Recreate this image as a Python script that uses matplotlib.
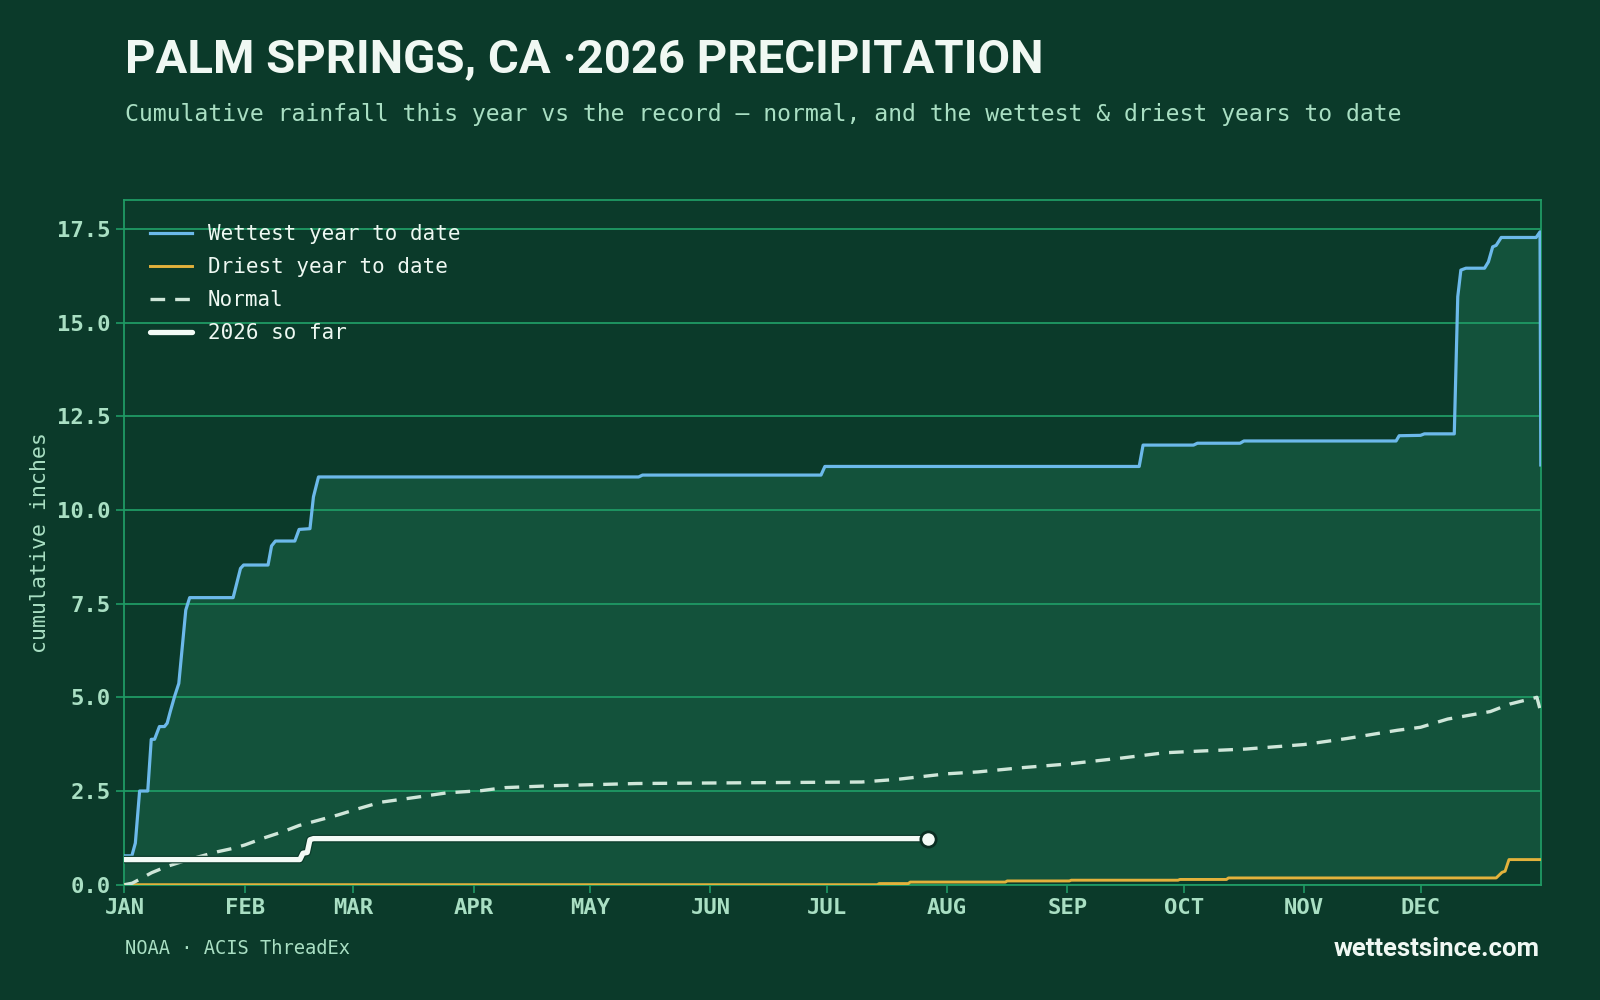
import numpy as np
import matplotlib
matplotlib.use('Agg')
import matplotlib.pyplot as plt
import matplotlib.patheffects as pe

# day of year (0 = Jan 1) and cumulative inches
wet_days = [0, 1.9, 2.8, 3.9, 6.0, 6.9, 7.75, 9.0, 10.3, 11.0, 11.8, 12.9, 14.0, 15.8, 16.8,
            28.0, 29.9, 30.7, 37.0, 37.9, 38.9, 43.9, 45.0, 47.8, 48.7, 50.0, 132.5, 133.5,
            179.5, 180.5, 261.5, 262.5, 275.5, 276.5, 287.5, 288.5, 327.7, 328.5, 334, 335,
            342.7, 343.6, 344.4, 345.7, 350.5, 351.5, 352.6, 353.5, 354.8, 363.8, 364.8, 365]
wet_vals = [0.77, 0.77, 1.11, 2.5, 2.5, 3.88, 3.88, 4.22, 4.22, 4.31, 4.62, 5.02, 5.37, 7.33, 7.66,
            7.66, 8.44, 8.53, 8.53, 9.04, 9.17, 9.17, 9.48, 9.5, 10.35, 10.88, 10.88, 10.93,
            10.93, 11.16, 11.16, 11.73, 11.73, 11.78, 11.78, 11.84, 11.84, 11.98, 11.99, 12.03,
            12.03, 15.69, 16.4, 16.45, 16.45, 16.62, 17.02, 17.06, 17.27, 17.27, 17.42, 11.2]

dry_days = [0, 194, 194.5, 202, 202.5, 227, 227.5, 243.5, 244, 271.5, 272, 284, 284.5,
            353.5, 355, 355.8, 356.8, 365]
dry_vals = [0, 0, 0.03, 0.03, 0.07, 0.07, 0.10, 0.10, 0.12, 0.12, 0.14, 0.14, 0.18,
            0.18, 0.33, 0.36, 0.67, 0.67]

norm_days = [0, 2, 4, 7, 11, 15, 19, 24, 28, 31, 36, 41, 45, 50, 55, 60, 66, 75, 83, 92, 98,
             110, 132, 160, 190, 199, 212, 220, 231, 243, 257, 268, 276, 289, 304, 315, 328,
             334, 341, 352, 357, 364, 365]
norm_vals = [0, 0.04, 0.15, 0.32, 0.49, 0.62, 0.74, 0.88, 0.97, 1.06, 1.25, 1.42, 1.58, 1.72,
             1.86, 2.02, 2.2, 2.33, 2.45, 2.51, 2.59, 2.64, 2.70, 2.72, 2.74, 2.81, 2.96, 3.01,
             3.12, 3.22, 3.38, 3.52, 3.56, 3.62, 3.74, 3.9, 4.12, 4.2, 4.42, 4.62, 4.82, 5.0, 4.6]

now_days = [0, 45.2, 46.0, 47.1, 47.8, 48.7, 207]
now_vals = [0.67, 0.67, 0.84, 0.86, 1.2, 1.23, 1.23]

month_starts = [0, 31, 59, 90, 120, 151, 181, 212, 243, 273, 304, 334]
month_labels = ['JAN', 'FEB', 'MAR', 'APR', 'MAY', 'JUN', 'JUL', 'AUG', 'SEP', 'OCT', 'NOV', 'DEC']
y_ticks = [0, 2.5, 5, 7.5, 10, 12.5, 15, 17.5]

BG = '#0b3a2a'
FILL = '#13523b'
GRID = '#1f9a64'
MINT = '#a9dfc3'
WET = '#6cb9ea'
DRY = '#e3b23c'
NORMAL = '#cfe6d9'
NOW = '#f3fbf6'
TITLE_FONT = ['Roboto', 'DejaVu Sans']
MONO = 'DejaVu Sans Mono'

fig = plt.figure(figsize=(16, 10), dpi=100, facecolor=BG)
ax = fig.add_axes([0.0778, 0.1153, 0.8852, 0.6847])
ax.set_facecolor(BG)

# shaded band between driest and wettest
ax.fill(np.r_[wet_days, dry_days[::-1]], np.r_[wet_vals, dry_vals[::-1]],
        color=FILL, lw=0, zorder=1)

for y in y_ticks:
    ax.axhline(y, color=GRID, lw=1.3, zorder=2)

ax.plot(wet_days, wet_vals, color=WET, lw=2.3, zorder=4, label='Wettest year to date')
ax.plot(dry_days, dry_vals, color=DRY, lw=2.1, zorder=4, label='Driest year to date')
ax.plot(norm_days, norm_vals, color=NORMAL, lw=2.4, dashes=(4.4, 3.0), zorder=4, label='Normal')
ax.plot(now_days, now_vals, color=NOW, lw=3.8, zorder=5, solid_capstyle='round',
        path_effects=[pe.Stroke(linewidth=5.5, foreground=BG), pe.Normal()], label='2026 so far')
ax.plot(now_days[-1], now_vals[-1], 'o', ms=11, mfc=NOW, mec='#0a2e22', mew=2, zorder=6)

ax.set_xlim(0, 365)
ax.set_ylim(0, 18.27)
ax.set_xticks(month_starts)
ax.set_xticklabels(month_labels)
ax.set_yticks(y_ticks)
ax.set_yticklabels([f'{v:.1f}' for v in y_ticks])
ax.tick_params(colors=GRID, labelcolor=MINT, length=6, width=1.2)
ax.tick_params(axis='y', pad=4)
ax.tick_params(axis='x', pad=3.5)
for lab in ax.get_xticklabels() + ax.get_yticklabels():
    lab.set_fontfamily(MONO)
    lab.set_fontweight('bold')
    lab.set_fontsize(16)
for s in ax.spines.values():
    s.set_color(GRID)
    s.set_linewidth(1.3)

leg = ax.legend(loc='upper left', frameon=False, bbox_to_anchor=(0.005, 0.992),
                prop={'family': MONO, 'size': 15}, handlelength=2.0,
                handletextpad=0.75, labelspacing=0.62)
for t in leg.get_texts():
    t.set_color('#eef8f2')

fig.text(0.078, 0.941, 'PALM SPRINGS, CA ·2026 PRECIPITATION', color='#f0f8f3',
         family=TITLE_FONT, weight='bold', fontsize=34, va='center', ha='left')
fig.text(0.078, 0.885, 'Cumulative rainfall this year vs the record — normal, and the wettest & driest years to date',
         color=MINT, family=MONO, fontsize=16.65, va='center', ha='left')
fig.text(0.025, 0.4575, 'cumulative inches', color=MINT, family=MONO, fontsize=15.5,
         rotation=90, va='center', ha='center')
fig.text(0.078, 0.052, 'NOAA · ACIS ThreadEx', color=MINT, family=MONO, fontsize=13.5,
         va='center', ha='left')
fig.text(0.962, 0.051, 'wettestsince.com', color='#f0f8f3', family=TITLE_FONT,
         weight='bold', fontsize=18.5, va='center', ha='right')

fig.savefig('out.png', dpi=100, facecolor=BG)
